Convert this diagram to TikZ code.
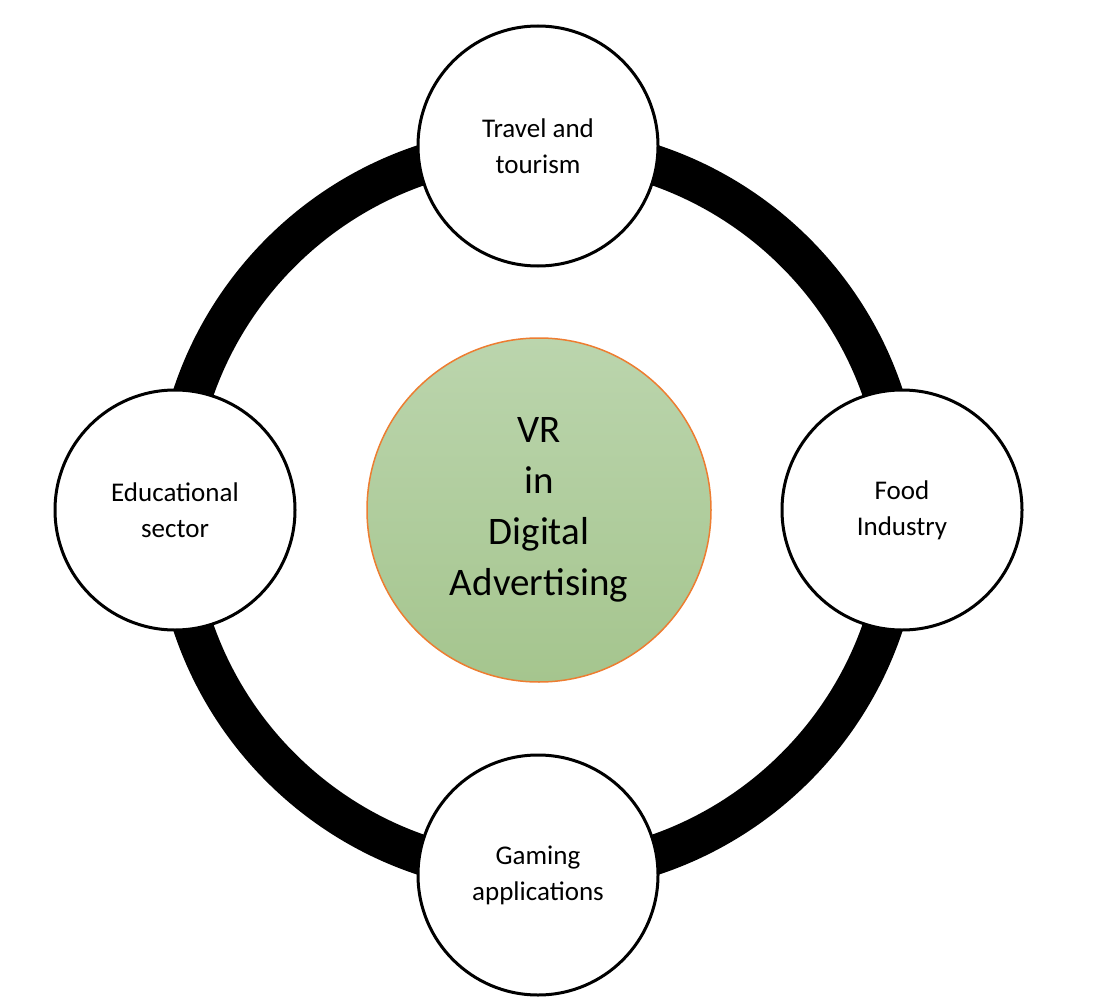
\documentclass[tikz,border=0pt]{standalone}
\usepackage{fontspec}
\setmainfont{Carlito}
\usetikzlibrary{positioning}
\definecolor{ringgreentop}{HTML}{BBD5AD}
\definecolor{ringgreenbot}{HTML}{A5C58E}
\definecolor{hubborder}{HTML}{ED7D31}
\tikzset{
  sector/.style={circle, draw=black, line width=3pt, fill=white,
    minimum size=240pt, inner sep=0pt, align=center,
    font=\fontsize{27}{36}\selectfont},
  hub/.style={circle, draw=hubborder, line width=1.5pt,
    top color=ringgreentop, bottom color=ringgreenbot,
    minimum size=344pt, inner sep=0pt, align=center,
    font=\fontsize{39}{51}\selectfont}
}
\begin{document}
\begin{tikzpicture}[x=1pt, y=-1pt]
    \useasboundingbox (0,0) rectangle (1106,1006);
    % Ring
    \draw[line width=40pt] (538,510) circle (364);

    % Centre
    \node[hub] (vr) at (539,510) {VR\\in\\Digital\\Advertising};

    % Sectors
    \node[sector] (travel) at (538,146) {Travel and\\tourism};
    \node[sector] (food) at (902,510) {Food\\Industry};
    \node[sector] (gaming) at (538,875) {Gaming\\applications};
    \node[sector] (edu) at (175,510) {Educational\\sector};
\end{tikzpicture}
\end{document}
